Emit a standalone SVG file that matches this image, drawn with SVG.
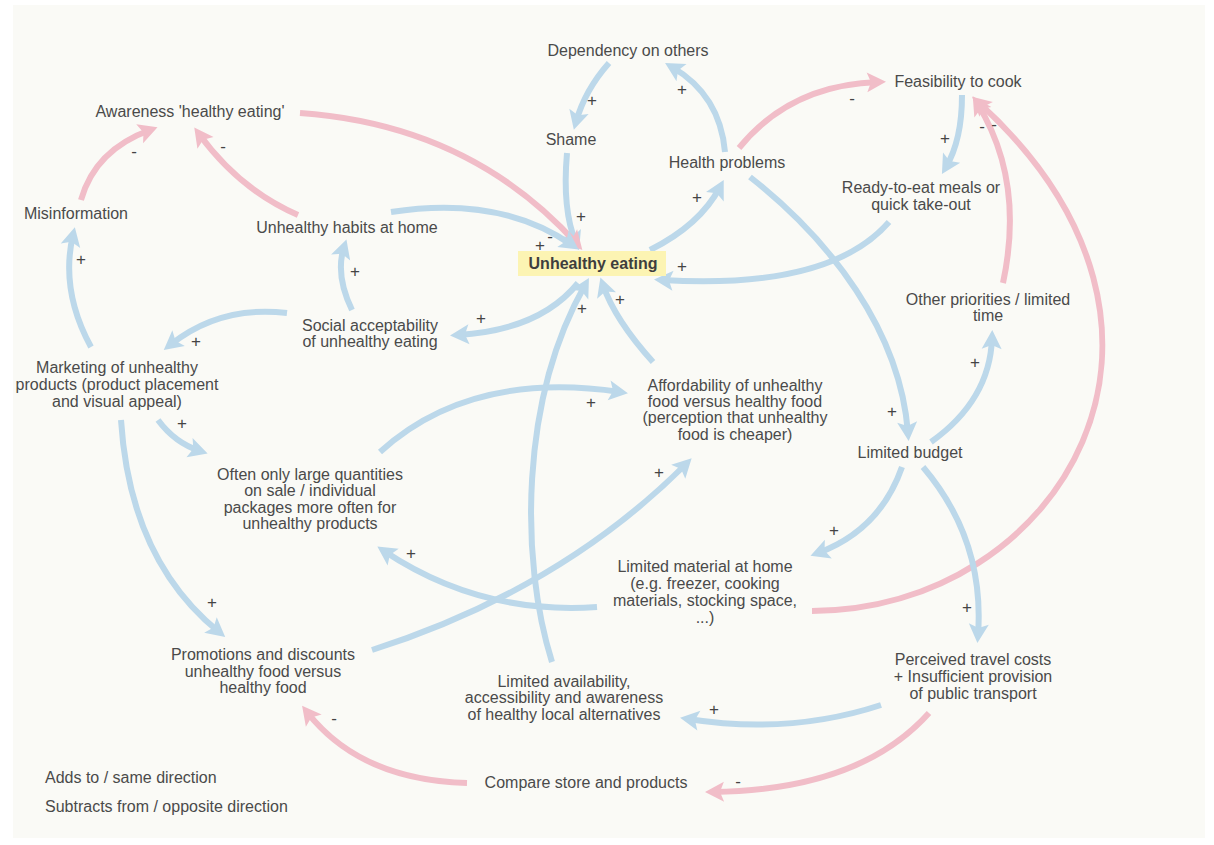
<svg xmlns="http://www.w3.org/2000/svg" width="1214" height="845" viewBox="0 0 1214 845">
<defs>
<style>
text{font-family:'Liberation Sans',Arial,sans-serif;fill:#4a4a4a;}
.n{font-size:16px;text-anchor:middle;}
.lg{font-size:16px;text-anchor:start;}
.ue{font-size:16px;font-weight:bold;text-anchor:middle;fill:#3e3e3e;}
.b{fill:none;stroke:#bcd8ea;stroke-width:6;stroke-linecap:butt;marker-end:url(#ab);}
.r{fill:none;stroke:#f1bdc8;stroke-width:6;stroke-linecap:butt;marker-end:url(#ar);}
.p{font-size:17px;text-anchor:middle;dominant-baseline:central;fill:#444;}
</style>
<marker id="ab" markerUnits="userSpaceOnUse" markerWidth="22" markerHeight="22" viewBox="0 0 22 22" refX="12" refY="11" orient="auto">
<path d="M1,1 L20,11 L1,21 L5,11 z" fill="#bcd8ea"/>
</marker>
<marker id="ar" markerUnits="userSpaceOnUse" markerWidth="22" markerHeight="22" viewBox="0 0 22 22" refX="12" refY="11" orient="auto">
<path d="M1,1 L20,11 L1,21 L5,11 z" fill="#f1bdc8"/>
</marker>
</defs>
<rect x="0" y="0" width="1214" height="845" fill="#ffffff"/>
<rect x="13" y="5" width="1192" height="833" fill="#fafaf6"/>

<g id="connectors">
<path class="b" d="M609 63 Q585 90 576 122"/>
<path class="b" d="M567 153 Q562 210 576 243"/>
<path class="b" d="M725 152 Q720 95 672 67"/>
<path class="b" d="M650 250 Q700 225 720 187"/>
<path class="r" d="M739 148 Q790 85 878 82"/>
<path class="b" d="M962 95 Q962 140 946 167"/>
<path class="b" d="M889 222 Q830 290 662 280"/>
<path class="r" d="M300 113 Q470 125 577 244"/>
<path class="r" d="M81 200 Q95 150 150 130"/>
<path class="r" d="M298 215 Q240 190 199 134"/>
<path class="b" d="M391 212 Q500 195 572 245"/>
<path class="b" d="M91 347 Q60 290 73 235"/>
<path class="b" d="M352 310 Q335 275 344 247"/>
<path class="b" d="M287 313 Q220 305 170 345"/>
<path class="b" d="M578 283 Q540 330 458 335"/>
<path class="b" d="M158 420 Q175 443 200 451"/>
<path class="b" d="M121 420 Q130 560 219 632"/>
<path class="b" d="M380 452 Q470 370 620 392"/>
<path class="b" d="M597 607 Q480 615 384 551"/>
<path class="b" d="M372 650 Q560 590 686 464"/>
<path class="b" d="M653 362 Q615 320 603 285"/>
<path class="b" d="M552 662 C520 560 520 400 585 285"/>
<path class="b" d="M750 177 C830 240 900 330 908 433"/>
<path class="b" d="M931 442 Q990 400 992 338"/>
<path class="r" d="M1003 283 Q1025 180 977 103"/>
<path class="r" d="M812 611 C1060 610 1230 330 978 102"/>
<path class="b" d="M902 467 Q880 530 818 553"/>
<path class="b" d="M923 467 Q985 540 978 635"/>
<path class="b" d="M881 705 Q790 735 688 719"/>
<path class="r" d="M929 713 Q860 790 713 792"/>
<path class="r" d="M467 783 Q360 780 307 712"/>

<text class="p" x="592" y="100">+</text>
<text class="p" x="581" y="216">+</text>
<text class="p" x="682" y="89">+</text>
<text class="p" x="697" y="197">+</text>
<text class="p" x="852" y="98">-</text>
<text class="p" x="945" y="138">+</text>
<text class="p" x="682" y="266">+</text>
<text class="p" x="550" y="236">-</text>
<text class="p" x="134" y="151">-</text>
<text class="p" x="223" y="146">-</text>
<text class="p" x="540" y="245">+</text>
<text class="p" x="81" y="259">+</text>
<text class="p" x="355" y="271">+</text>
<text class="p" x="196" y="341">+</text>
<text class="p" x="481" y="318">+</text>
<text class="p" x="182" y="423">+</text>
<text class="p" x="212" y="602">+</text>
<text class="p" x="591" y="402">+</text>
<text class="p" x="411" y="553">+</text>
<text class="p" x="659" y="472">+</text>
<text class="p" x="620" y="299">+</text>
<text class="p" x="582" y="308">+</text>
<text class="p" x="892" y="411">+</text>
<text class="p" x="975" y="362">+</text>
<text class="p" x="982" y="126">-</text>
<text class="p" x="994" y="124">-</text>
<text class="p" x="834" y="530">+</text>
<text class="p" x="967" y="607">+</text>
<text class="p" x="714" y="709">+</text>
<text class="p" x="738" y="781">-</text>
<text class="p" x="334" y="718">-</text>
</g>

<g id="n-dependency"><text class="n" x="628" y="56">Dependency on others</text></g>
<g id="n-shame"><text class="n" x="571" y="145">Shame</text></g>
<g id="n-health"><text class="n" x="727" y="168">Health problems</text></g>
<g id="n-feasibility"><text class="n" x="958" y="87">Feasibility to cook</text></g>
<g id="n-ready"><text class="n" x="921" y="193">Ready-to-eat meals or</text><text class="n" x="921" y="210">quick take-out</text></g>
<g id="n-awareness"><text class="n" x="190" y="117">Awareness 'healthy eating'</text></g>
<g id="n-misinformation"><text class="n" x="76" y="219">Misinformation</text></g>
<g id="n-habits"><text class="n" x="347" y="233">Unhealthy habits at home</text></g>
<g id="n-unhealthy-eating"><rect x="518" y="251" width="148" height="25" fill="#fcf4b3"/><text class="ue" x="593" y="269">Unhealthy eating</text></g>
<g id="n-social"><text class="n" x="370" y="331">Social acceptability</text><text class="n" x="370" y="347">of unhealthy eating</text></g>
<g id="n-marketing"><text class="n" x="117" y="373">Marketing of unhealthy</text><text class="n" x="117" y="390">products (product placement</text><text class="n" x="117" y="407">and visual appeal)</text></g>
<g id="n-other"><text class="n" x="988" y="305">Other priorities / limited</text><text class="n" x="988" y="321">time</text></g>
<g id="n-affordability"><text class="n" x="735" y="391">Affordability of unhealthy</text><text class="n" x="735" y="407">food versus healthy food</text><text class="n" x="735" y="423">(perception that unhealthy</text><text class="n" x="735" y="440">food is cheaper)</text></g>
<g id="n-budget"><text class="n" x="910" y="458">Limited budget</text></g>
<g id="n-often"><text class="n" x="310" y="480">Often only large quantities</text><text class="n" x="310" y="496">on sale / individual</text><text class="n" x="310" y="513">packages more often for</text><text class="n" x="310" y="529">unhealthy products</text></g>
<g id="n-material"><text class="n" x="705" y="572">Limited material at home</text><text class="n" x="705" y="589">(e.g. freezer, cooking</text><text class="n" x="705" y="606">materials, stocking space,</text><text class="n" x="705" y="623">...)</text></g>
<g id="n-promotions"><text class="n" x="263" y="660">Promotions and discounts</text><text class="n" x="263" y="677">unhealthy food versus</text><text class="n" x="263" y="693">healthy food</text></g>
<g id="n-availability"><text class="n" x="564" y="687">Limited availability,</text><text class="n" x="564" y="703">accessibility and awareness</text><text class="n" x="564" y="720">of healthy local alternatives</text></g>
<g id="n-perceived"><text class="n" x="973" y="665">Perceived travel costs</text><text class="n" x="973" y="682">+ Insufficient provision</text><text class="n" x="973" y="699">of public transport</text></g>
<g id="n-compare"><text class="n" x="586" y="788">Compare store and products</text></g>
<g id="legend"><text class="lg" x="45" y="783">Adds to / same direction</text><text class="lg" x="45" y="812">Subtracts from / opposite direction</text></g>
</svg>
